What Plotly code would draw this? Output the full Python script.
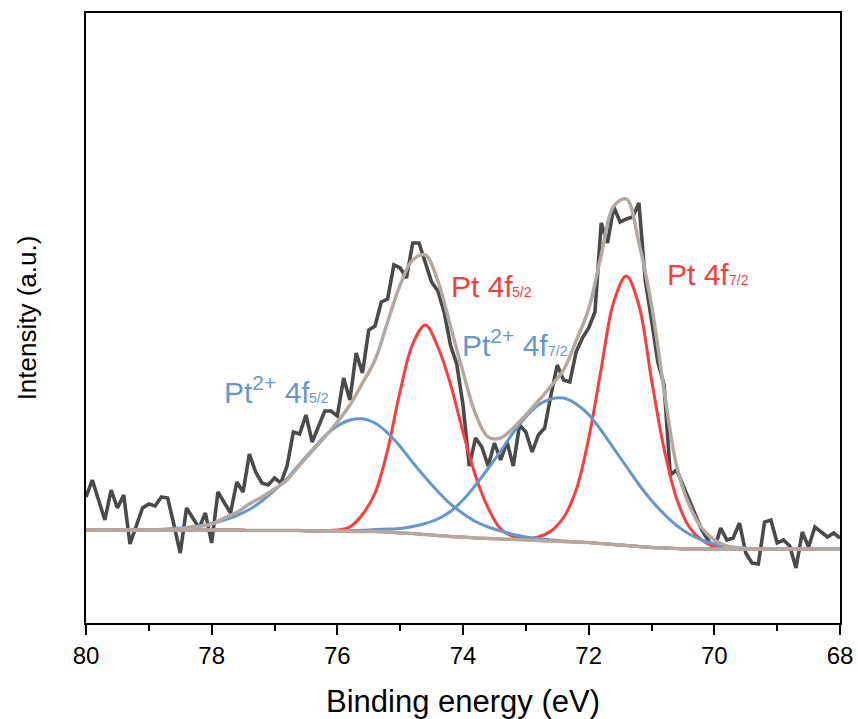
import plotly.graph_objects as go

# ---------------- raw spectrum (0.1 eV steps) ----------------
energy = [80.0, 79.9, 79.8, 79.7, 79.6, 79.5, 79.4, 79.3, 79.2, 79.1,
          79.0, 78.9, 78.8, 78.7, 78.6, 78.5, 78.4, 78.3, 78.2, 78.1,
          78.0, 77.9, 77.8, 77.7, 77.6, 77.5, 77.4, 77.3, 77.2, 77.1,
          77.0, 76.9, 76.8, 76.7, 76.6, 76.5, 76.4, 76.3, 76.2, 76.1,
          76.0, 75.9, 75.8, 75.7, 75.6, 75.5, 75.4, 75.3, 75.2, 75.1,
          75.0, 74.9, 74.8, 74.7, 74.6, 74.5, 74.4, 74.3, 74.2, 74.1,
          74.0, 73.9, 73.8, 73.7, 73.6, 73.5, 73.4, 73.3, 73.2, 73.1,
          73.0, 72.9, 72.8, 72.7, 72.6, 72.5, 72.4, 72.3, 72.2, 72.1,
          72.0, 71.9, 71.8, 71.7, 71.6, 71.5, 71.4, 71.3, 71.2, 71.1,
          71.0, 70.9, 70.8, 70.7, 70.6, 70.5, 70.4, 70.3, 70.2, 70.1,
          70.0, 69.9, 69.8, 69.7, 69.6, 69.5, 69.4, 69.3, 69.2, 69.1,
          69.0, 68.9, 68.8, 68.7, 68.6, 68.5, 68.4, 68.3, 68.2, 68.1,
          68.0]
intensity = [126, 143, 123, 103, 133, 115, 128, 79, 97, 115,
             119, 117, 126, 125, 98, 70, 115, 105, 95, 110,
             80, 131, 121, 110, 141, 131, 169, 151, 140, 138,
             145, 140, 157, 191, 189, 208, 181, 197, 212, 212,
             207, 245, 223, 270, 250, 293, 297, 321, 324, 358,
             355, 345, 380, 380, 360, 341, 332, 311, 278, 259,
             218, 157, 185, 176, 157, 180, 163, 181, 157, 198,
             191, 171, 188, 195, 228, 258, 243, 241, 271, 285,
             295, 311, 400, 380, 416, 401, 404, 406, 420, 343,
             303, 261, 238, 148, 153, 138, 122, 106, 93, 83,
             73, 95, 83, 85, 100, 70, 60, 59, 101, 103,
             80, 83, 77, 55, 91, 76, 96, 91, 86, 90,
             85]

# ---------------- fitted curves (0.2 eV steps) ----------------
fit_energy = [80.0, 79.8, 79.6, 79.4, 79.2, 79.0, 78.8, 78.6, 78.4, 78.2,
              78.0, 77.8, 77.6, 77.4, 77.2, 77.0, 76.8, 76.6, 76.4, 76.2,
              76.0, 75.8, 75.6, 75.4, 75.2, 75.0, 74.8, 74.6, 74.4, 74.2,
              74.0, 73.8, 73.6, 73.4, 73.2, 73.0, 72.8, 72.6, 72.4, 72.2,
              72.0, 71.8, 71.6, 71.4, 71.2, 71.0, 70.8, 70.6, 70.4, 70.2,
              70.0, 69.8, 69.6, 69.4, 69.2, 69.0, 68.8, 68.6, 68.4, 68.2,
              68.0]
background = [93, 93, 93, 93, 93, 93, 93, 93, 93, 93,
              93, 93, 93, 92.5, 92.5, 92.5, 92.5, 92.5, 92, 92,
              92, 91.5, 91.5, 91.5, 91, 90, 89.5, 88.5, 87.5, 86.5,
              86, 85, 84.5, 84, 83.5, 83, 82.5, 82, 81.5, 81,
              80.5, 79.5, 78.5, 77.5, 76.5, 75.5, 75, 74.5, 74, 74,
              74, 74, 74, 74, 74, 74, 74, 74, 74, 74,
              74]
pt0_4f52 = [93, 93, 93, 93, 93, 93, 93, 93, 93, 93,
            93, 93, 93, 92.5, 92.5, 92.5, 92.5, 92.5, 92, 92.5,
            93, 96, 108.5, 130, 173, 232, 279, 298, 276, 239,
            191, 147, 115, 94, 86.5, 84, 82.5, 82, 81.5, 81,
            80.5, 79.5, 78.5, 77.5, 76.5, 75.5, 75, 74.5, 74, 74,
            74, 74, 74, 74, 74, 74, 74, 74, 74, 74,
            74]
pt0_4f72 = [93, 93, 93, 93, 93, 93, 93, 93, 93, 93,
            93, 93, 93, 92.5, 92.5, 92.5, 92.5, 92.5, 92, 92,
            92, 91.5, 91.5, 91.5, 91, 90, 89.5, 88.5, 87.5, 86.5,
            86, 85, 84.5, 84, 83.5, 84, 86, 92, 105.5, 133,
            184.5, 254.5, 321.5, 347, 317.5, 243.5, 174, 124.5, 96, 83,
            76.5, 74.5, 74, 74, 74, 74, 74, 74, 74, 74,
            74]
pt2_4f52 = [93, 93, 93, 93, 93, 93.3, 93.7, 94.5, 95.5, 97.2,
            99.5, 103, 107.5, 113.5, 122, 132.5, 144.5, 159, 173, 187,
            197, 203, 204.2, 200, 190, 176.5, 160.5, 145.5, 131.5, 119,
            109.5, 101.5, 96, 92, 88.5, 86, 84.5, 83, 82, 81,
            80.5, 79.5, 78.5, 77.5, 76.5, 75.5, 75, 74.5, 74, 74,
            74, 74, 74, 74, 74, 74, 74, 74, 74, 74,
            74]
pt2_4f72 = [93, 93, 93, 93, 93, 93, 93, 93, 93, 93,
            93, 93, 93, 92.5, 92.5, 92.5, 92.5, 92.5, 92, 92.3,
            92.5, 92.3, 92.7, 93.5, 94, 94.5, 96.5, 99.5, 104, 111.5,
            123, 138, 154.5, 172, 190.5, 206, 218, 224, 225, 219,
            208.5, 192.5, 174.5, 156.5, 138.5, 122.5, 109, 97.5, 89, 83,
            79, 76.5, 75.2, 74.5, 74.2, 74, 74, 74, 74, 74,
            74]
envelope = [93, 93, 93, 93, 93, 93, 93, 93.5, 95, 96.5,
            99, 105, 110.5, 119, 126, 134, 143, 158, 172, 186,
            201, 218, 240, 263, 301, 338, 363, 368, 342, 297,
            251, 209, 186, 185, 195, 208, 222, 237, 253, 282,
            314, 368, 417, 424, 380, 318, 233, 157, 118, 95,
            83, 77, 75, 74, 74, 74, 74, 74, 74, 74,
            74]

# ---------------- labels ----------------
label_main = ["Pt 4f", "Pt 4f", "Pt<sup>2+</sup> 4f", "Pt<sup>2+</sup> 4f"]
label_sub = ["5/2", "7/2", "7/2", "5/2"]
label_x = [74.23, 70.78, 74.04, 77.84]
label_y = [337, 349, 280, 233]
sub_x = [73.25, 69.80, 72.68, 76.48]
sub_y = [331.5, 343.5, 272.3, 225.3]

RED = "#ff3c3c"
BLUE = "#6697cc"
TAN = "#b3a9a1"
DARK = "#4a4a4a"
FONT = "Liberation Sans, Arial, sans-serif"

SMOOTH = 1.0

fig = go.Figure()
fig.add_trace(go.Scatter(x=energy, y=intensity, mode="lines",
                         line=dict(color=DARK, width=3.6), name="Raw"))
fig.add_trace(go.Scatter(x=fit_energy, y=pt0_4f52, mode="lines",
                         line=dict(color=RED, width=3, shape="spline", smoothing=SMOOTH),
                         name="Pt 4f5/2"))
fig.add_trace(go.Scatter(x=fit_energy, y=pt0_4f72, mode="lines",
                         line=dict(color=RED, width=3, shape="spline", smoothing=SMOOTH),
                         name="Pt 4f7/2"))
fig.add_trace(go.Scatter(x=fit_energy, y=pt2_4f52, mode="lines",
                         line=dict(color=BLUE, width=3, shape="spline", smoothing=SMOOTH),
                         name="Pt2+ 4f5/2"))
fig.add_trace(go.Scatter(x=fit_energy, y=pt2_4f72, mode="lines",
                         line=dict(color=BLUE, width=3, shape="spline", smoothing=SMOOTH),
                         name="Pt2+ 4f7/2"))
fig.add_trace(go.Scatter(x=fit_energy, y=envelope, mode="lines",
                         line=dict(color=TAN, width=3.5, shape="spline", smoothing=SMOOTH),
                         name="Envelope"))
fig.add_trace(go.Scatter(x=fit_energy, y=background, mode="lines",
                         line=dict(color=TAN, width=3.5, shape="spline", smoothing=SMOOTH),
                         name="Background"))

label_colors = [RED, RED, BLUE, BLUE]
for t, s, x, y, sx, sy, c in zip(label_main, label_sub, label_x, label_y,
                                  sub_x, sub_y, label_colors):
    fig.add_annotation(x=x, y=y, xref="x", yref="y", text=t, showarrow=False,
                       xanchor="left", yanchor="middle",
                       font=dict(family=FONT, size=30, color=c))
    fig.add_annotation(x=sx, y=sy, xref="x", yref="y", text=s, showarrow=False,
                       xanchor="left", yanchor="middle",
                       font=dict(family=FONT, size=14, color=c))

fig.update_layout(
    width=858, height=719,
    margin=dict(l=86, r=18, t=13, b=96),
    paper_bgcolor="white", plot_bgcolor="white",
    showlegend=False,
    font=dict(family=FONT, color="black"),
)
fig.update_xaxes(
    range=[80, 68], tick0=68, dtick=2,
    ticks="outside", ticklen=10, tickwidth=2, tickcolor="black",
    minor=dict(dtick=1, ticks="outside", ticklen=6, tickwidth=2, tickcolor="black"),
    showline=True, linewidth=2, linecolor="black", mirror=True,
    showgrid=False, zeroline=False, automargin=False,
    tickfont=dict(family=FONT, size=24, color="black"),
    title=dict(text="Binding energy (eV)", font=dict(family=FONT, size=31, color="black"), standoff=23),
)
fig.update_yaxes(
    range=[0, 610], showticklabels=False, ticks="",
    showline=True, linewidth=2, linecolor="black", mirror=True,
    showgrid=False, zeroline=False, automargin=False,
    title=dict(text="Intensity (a.u.)", font=dict(family=FONT, size=26, color="black"), standoff=40),
)

fig.write_html("out.html")
